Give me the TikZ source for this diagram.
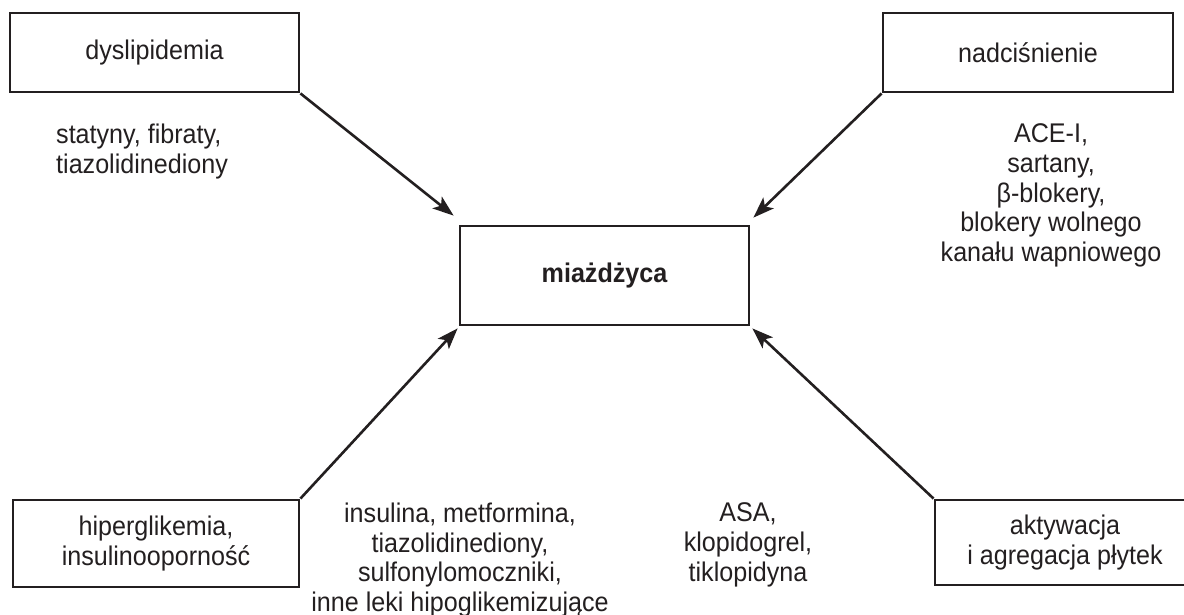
\documentclass[tikz,border=0pt]{standalone}
\usepackage{fontspec}
\setmainfont[FakeStretch=0.93]{Liberation Sans}
\usetikzlibrary{arrows.meta}
\definecolor{ink}{HTML}{231F20}
\begin{document}
\begin{tikzpicture}[x=1pt,y=-1pt,
  txt/.style={font=\fontsize{27}{29.8}\selectfont, text=ink, inner sep=0pt},
  box/.style={txt, draw=ink, line width=2.8pt, align=center},
  conn/.style={draw=ink, line width=2.6pt, -{Stealth[length=21pt,width=15pt,inset=5pt]}}]
\clip (0,0) rectangle (1184,614);
\fill[white] (0,0) rectangle (1184,614);
% boxes
\node[box, minimum width=289pt, minimum height=79pt] (dys) at (154.5,52.5) {dyslipidemia};
\node[box, minimum width=290pt, minimum height=79pt] (nad) at (1028,52.5) {nadciśnienie};
\node[box, minimum width=289pt, minimum height=99pt] (mia) at (604.5,275.5) {\bfseries miażdżyca};
\node[box, minimum width=286pt, minimum height=87pt] (hip) at (156,543.5) {hiperglikemia,\\insulinooporność};
\node[box, minimum width=260pt, minimum height=85pt] (akt) at (1065,542.5) {aktywacja\\i agregacja płytek};
% drug labels
\node[txt, align=left, anchor=north west] (l1) at (56,123.5) {statyny, fibraty,\\tiazolidinediony};
\node[txt, align=center, anchor=north] (l2) at (1051,123.5) {ACE-I,\\sartany,\\β-blokery,\\blokery wolnego\\kanału wapniowego};
\node[txt, align=center, anchor=north] (l3) at (460,502.5) {insulina, metformina,\\tiazolidinediony,\\sulfonylomoczniki,\\inne leki hipoglikemizujące};
\node[txt, align=center, anchor=north] (l4) at (748,502.5) {ASA,\\klopidogrel,\\tiklopidyna};
% connectors
\draw[conn] (dys.south east) -- ([shift={(-5,-9)}]mia.north west);
\draw[conn] (nad.south west) -- ([shift={(3,-7)}]mia.north east);
\draw[conn] (hip.north east) -- ([shift={(-1,2)}]mia.south west);
\draw[conn] (akt.north west) -- ([shift={(2,2)}]mia.south east);
\end{tikzpicture}
\end{document}
